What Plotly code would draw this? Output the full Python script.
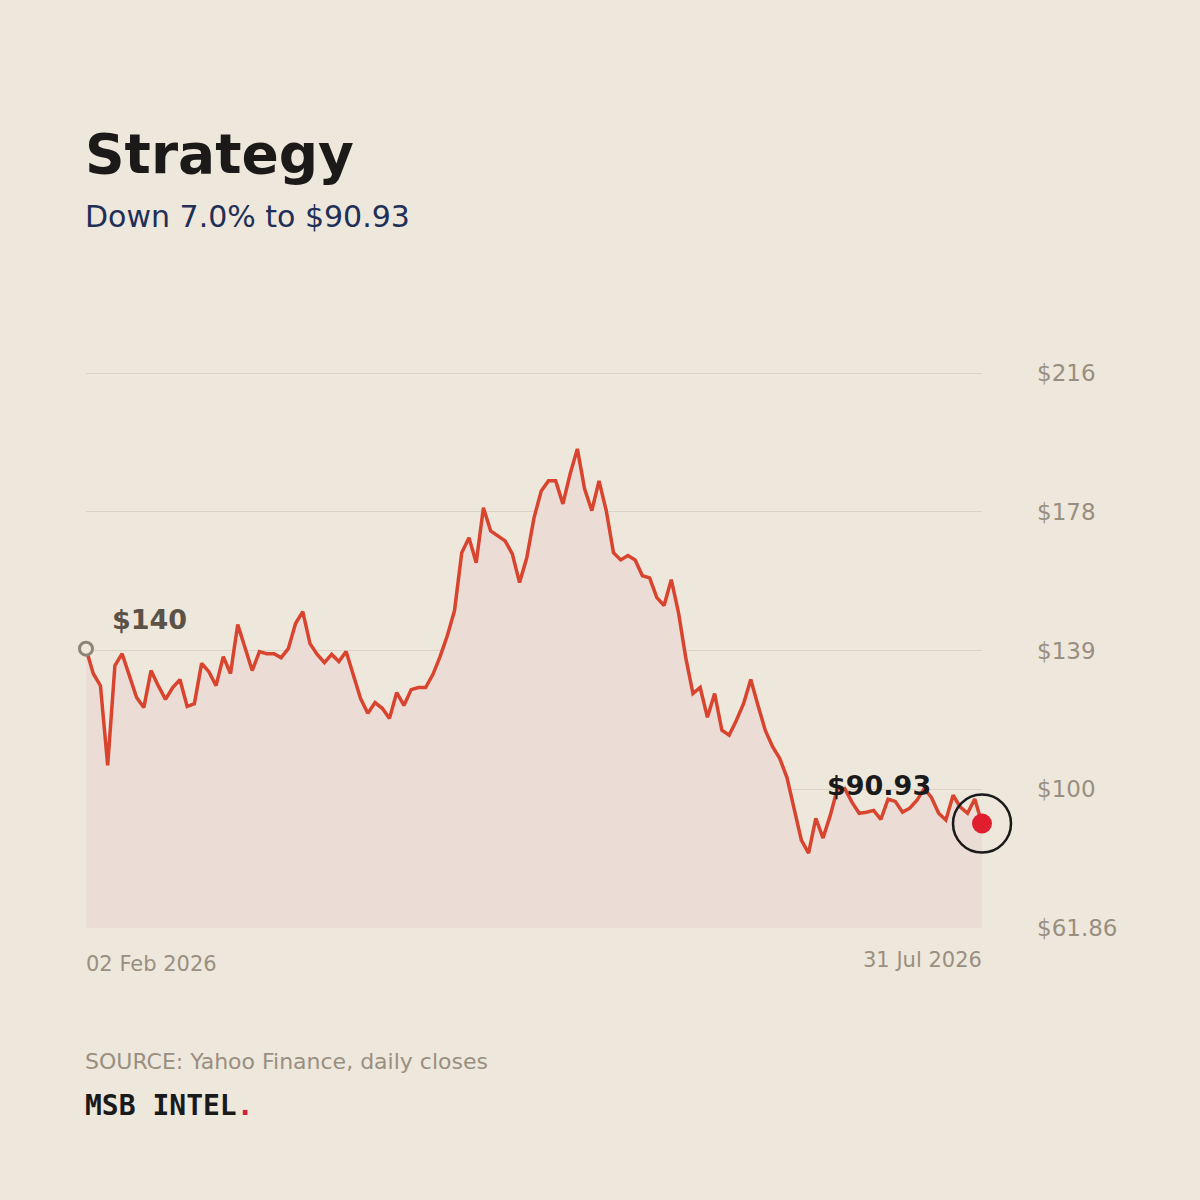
import pandas as pd
import plotly.graph_objects as go

# ---------------- data ----------------
holidays = ["2026-02-16", "2026-04-03", "2026-05-25", "2026-06-19", "2026-07-03"]
dates = [d for d in pd.bdate_range("2026-02-02", "2026-07-31") if d.strftime("%Y-%m-%d") not in holidays]

closes = [
    139.6, 132.7, 129.3, 107.1, 134.9, 138.2, 132.1, 126.0, 123.2, 133.5,
    129.3, 125.5, 128.8, 131.0, 123.5, 124.3, 135.5, 133.2, 129.3, 137.4,
    132.7, 146.3, 139.9, 133.5, 138.8, 138.2, 138.2, 137.1, 139.6, 146.6,
    149.9, 141.0, 138.0, 135.7, 138.0, 136.0, 138.8, 132.1, 125.7, 121.6,
    124.6, 123.0, 120.2, 127.4, 123.8, 128.2, 128.8, 128.8, 132.4, 137.4,
    143.2, 150.2, 166.3, 170.5, 163.5, 178.8, 172.4, 171.0, 169.6, 166.0,
    158.0, 164.9, 176.0, 183.5, 186.3, 186.3, 179.9, 188.2, 195.2, 184.1,
    178.0, 186.3, 178.0, 166.3, 164.3, 165.5, 164.3, 159.9, 159.3, 153.8,
    151.6, 158.8, 149.6, 137.1, 127.1, 128.8, 120.5, 127.1, 116.9, 115.5,
    119.6, 124.3, 131.0, 123.8, 116.9, 112.4, 109.1, 103.8, 95.5, 86.3,
    82.7, 92.4, 86.9, 93.2, 100.7, 100.7, 96.9, 93.8, 94.1, 94.6,
    92.1, 97.7, 97.1, 94.1, 95.2, 97.4, 100.7, 98.2, 93.8, 91.9,
    98.8, 95.5, 93.8, 97.78, 90.93,
]

y_ticks = [61.86, 100.47, 139.08, 177.69, 216.3]
y_tick_labels = ["$61.86", "$100", "$139", "$178", "$216"]

title_text = "Strategy"
subtitle_text = "Down 7.0% to $90.93"
start_label = "$140"
end_label = "$90.93"
source_text = "SOURCE: Yahoo Finance, daily closes"

# ---------------- styling ----------------
BG = "#EEE7DB"
LINE = "#D9442F"
FILL = "#EBDCD6"
GRID = "#DAD2C5"
MUTED = "#998F81"
FONT = "DejaVu Sans"

x_labels = [d.strftime("%Y-%m-%d") for d in dates]
n = len(closes)
x_idx = list(range(n))

fig = go.Figure()

fig.add_trace(go.Scatter(
    x=x_idx, y=closes, mode="lines",
    line=dict(color=LINE, width=3.5, shape="linear"),
    fill="tozeroy", fillcolor=FILL,
    customdata=x_labels, hovertemplate="%{customdata}: $%{y:.2f}<extra></extra>",
))

# start marker (hollow)
fig.add_trace(go.Scatter(
    x=[x_idx[0]], y=[closes[0]], mode="markers",
    marker=dict(size=13, color=BG, line=dict(color="#8E8577", width=3)),
    cliponaxis=False, hoverinfo="skip",
))
# end ring
fig.add_trace(go.Scatter(
    x=[x_idx[-1]], y=[closes[-1]], mode="markers",
    marker=dict(size=58, symbol="circle-open", color="#1A1A1A", line=dict(width=2.5, color="#1A1A1A")),
    cliponaxis=False, hoverinfo="skip",
))
# end dot
fig.add_trace(go.Scatter(
    x=[x_idx[-1]], y=[closes[-1]], mode="markers",
    marker=dict(size=20, color="#E01E2D", line=dict(width=0)),
    cliponaxis=False, hoverinfo="skip",
))

fig.update_layout(
    width=1200, height=1200,
    paper_bgcolor=BG, plot_bgcolor=BG,
    margin=dict(l=86, r=218, t=372, b=272),
    showlegend=False,
    font=dict(family=FONT, color=MUTED),
    xaxis=dict(visible=False, range=[0, n - 1], fixedrange=True),
    yaxis=dict(
        side="right", range=[y_ticks[0], 216.6],
        tickmode="array", tickvals=y_ticks, ticktext=y_tick_labels,
        showgrid=True, gridcolor=GRID, gridwidth=1,
        zeroline=False, showline=False, ticks="",
        ticklabelstandoff=54,
        tickfont=dict(family=FONT, size=23, color=MUTED),
    ),
)

def px_to_paper_y(py):
    return (928 - py) / 556.0

def px_to_paper_x(px):
    return (px - 86) / 896.0

ann = [
    dict(text=f"<b>{title_text}</b>", x=px_to_paper_x(83), y=px_to_paper_y(154), xanchor="left", yanchor="middle",
         font=dict(family=FONT, size=55, color="#1B1A19")),
    dict(text=subtitle_text, x=px_to_paper_x(83), y=px_to_paper_y(217), xanchor="left", yanchor="middle",
         font=dict(family=FONT, size=30, color="#1F2F57")),
    dict(text=f"<b>{start_label}</b>", x=px_to_paper_x(110), y=px_to_paper_y(619), xanchor="left", yanchor="middle",
         font=dict(family=FONT, size=27, color="#5B5347")),
    dict(text=f"<b>{end_label}</b>", x=px_to_paper_x(825), y=px_to_paper_y(785), xanchor="left", yanchor="middle",
         font=dict(family=FONT, size=27, color="#1A1A1A")),
    dict(text=dates[0].strftime("%d %b %Y"), x=px_to_paper_x(84), y=px_to_paper_y(964), xanchor="left", yanchor="middle",
         font=dict(family=FONT, size=21, color=MUTED)),
    dict(text=dates[-1].strftime("%d %b %Y"), x=px_to_paper_x(984), y=px_to_paper_y(960), xanchor="right", yanchor="middle",
         font=dict(family=FONT, size=21, color=MUTED)),
    dict(text=source_text, x=px_to_paper_x(83), y=px_to_paper_y(1061), xanchor="left", yanchor="middle",
         font=dict(family=FONT, size=22, color=MUTED)),
    dict(text="<b>MSB INTEL<span style='color:#D4213D'>.</span></b>", x=px_to_paper_x(83), y=px_to_paper_y(1105),
         xanchor="left", yanchor="middle",
         font=dict(family="DejaVu Sans Mono", size=28, color="#1A1A1A")),
]
for a in ann:
    a.update(xref="paper", yref="paper", showarrow=False, align="left")
fig.update_layout(annotations=ann)

fig.write_html("out.html")
